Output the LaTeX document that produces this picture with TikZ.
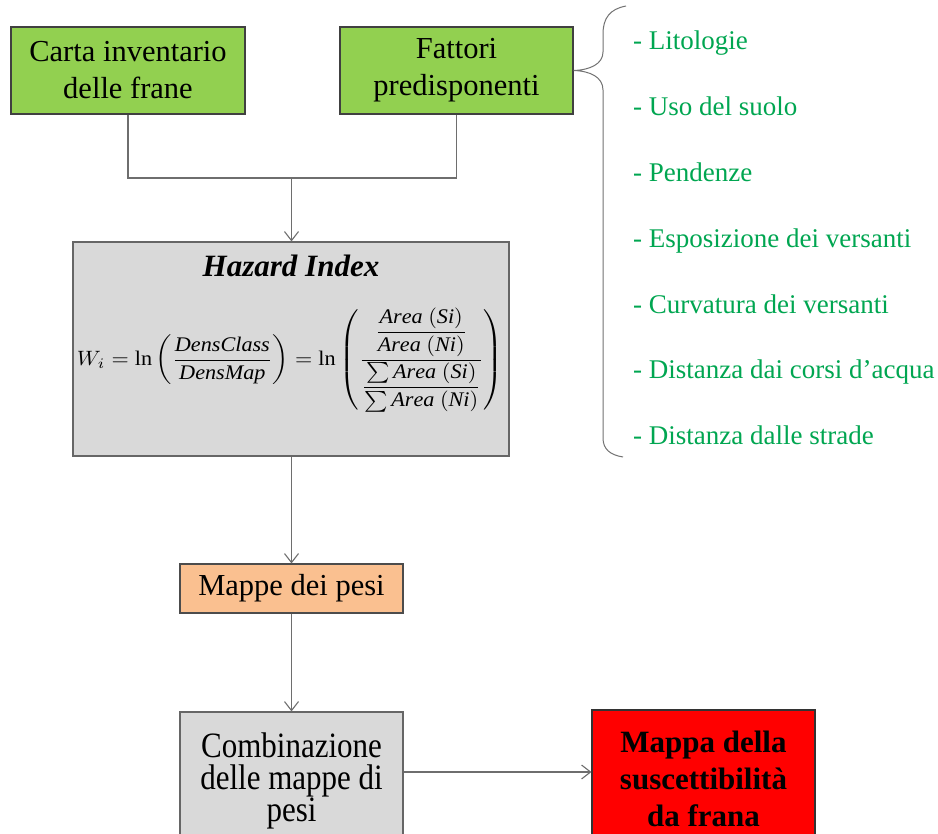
\documentclass[tikz,border=0pt]{standalone}
\usepackage{fontspec}
\setmainfont{Liberation Serif}
\usepackage{amsmath,graphicx}
\usetikzlibrary{arrows.meta,positioning}
\definecolor{leafgreen}{HTML}{92D050}
\definecolor{boxgray}{HTML}{D9D9D9}
\definecolor{peach}{HTML}{FAC090}
\definecolor{listgreen}{HTML}{00A651}
\definecolor{wire}{HTML}{6E6E6E}

\begin{document}
\begin{tikzpicture}[x=1pt,y=1pt,
  box/.style={draw=black!75,line width=1.1pt,align=center,inner sep=0pt,
    font=\fontsize{30.5}{37}\selectfont},
  flow/.style={draw=wire,line width=1.1pt,-{Straight Barb[length=9pt,width=14pt]}},
  wireline/.style={draw=wire,line width=1.1pt},
  item/.style={anchor=base west,inner sep=0pt,text=listgreen,
    font=\fontsize{27}{32}\selectfont}]
  \clip (0,0) rectangle (938,-834);
  \fill[white] (0,0) rectangle (938,-834);
  % the two input layers
  \node[box,fill=leafgreen,minimum width=234pt,minimum height=87pt] (carta) at (128,-70.5)
    {Carta inventario\\delle frane};
  \node[box,fill=leafgreen,minimum width=233pt,minimum height=87pt] (fattori) at (456.5,-70.5)
    {Fattori\\predisponenti};
  % weighting step
  \node[box,fill=boxgray,draw=black!60,minimum width=436pt,minimum height=214pt] (hazard) at (291,-349) {};
  \node[anchor=base,inner sep=0pt,font=\fontsize{31}{34}\selectfont\bfseries\itshape] (title) at (291,-277) {Hazard Index};
  \node[inner sep=0pt] (formula) at (290,-360) {\resizebox*{426pt}{104pt}{$\displaystyle
    W_i=\ln\left(\frac{\mathit{DensClass}}{\mathit{DensMap}}\right)
    =\ln\left(\frac{\dfrac{\mathit{Area}\ (\mathit{Si})}{\mathit{Area}\ (\mathit{Ni})}}
    {\dfrac{\sum\mathit{Area}\ (\mathit{Si})}{\sum\mathit{Area}\ (\mathit{Ni})}}\right)$}};
  \node[box,fill=peach,draw=black!70,minimum width=223pt,minimum height=49pt] (mappe) at (291.5,-588.5)
    {Mappe dei pesi};
  \node[box,fill=boxgray,draw=black!60,minimum width=223pt,minimum height=138pt,
    font=\fontsize{31}{32}\selectfont] (combi) at (291.5,-781)
    {\scalebox{1}[1.15]{Combinazione}\\\scalebox{1}[1.15]{delle mappe di}\\\scalebox{1}[1.15]{pesi}};
  \node[box,fill=red,draw=black!80,minimum width=223pt,minimum height=138pt,
    font=\fontsize{31}{37}\selectfont\bfseries] (result) at (703.5,-779)
    {Mappa della\\suscettibilità\\da frana};
  % connectors
  \coordinate (join) at (291.5,-178);
  \draw[wireline] (carta.south) |- (join) -| (fattori.south);
  \draw[flow] (join) -- (join |- hazard.north);
  \draw[flow] (hazard.south -| mappe.north) -- (mappe.north);
  \draw[flow] (mappe.south) -- (combi.north);
  \draw[flow] ([yshift=9pt]combi.east) -- ([yshift=9pt]combi.east -| result.west);
  % brace and list of factors
  \draw[draw=black!55,line width=1pt] (626,-6) .. controls (610,-9) and (603,-18) .. (603,-34)
    -- (603,-52) .. controls (603,-64) and (590,-70) .. (fattori.east)
    .. controls (590,-71) and (603,-77) .. (603,-90)
    -- (603,-438) .. controls (603,-449) and (610,-455) .. (623,-457);
  \foreach \name [count=\i from 0] in {Litologie,Uso del suolo,Pendenze,
      Esposizione dei versanti,Curvatura dei versanti,
      Distanza dai corsi d’acqua,Distanza dalle strade}
    \node[item] (factor\i) at (633,-50-65.8*\i) {- \name};
\end{tikzpicture}
\end{document}
